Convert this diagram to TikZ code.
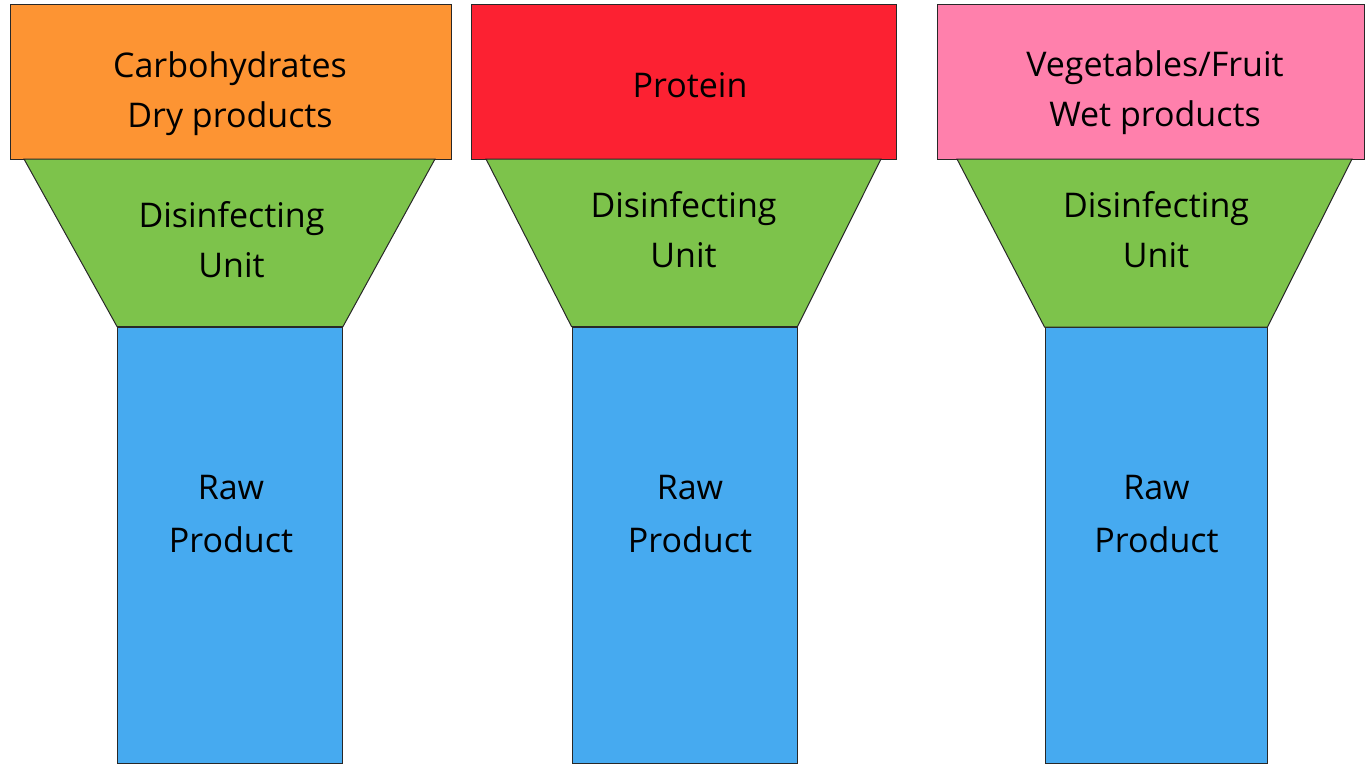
\documentclass[tikz,border=0pt]{standalone}
\usepackage{fontspec}
\setmainfont{Open Sans}
\usepackage{tikz}
\usetikzlibrary{positioning}
\definecolor{myorange}{RGB}{253,148,51}
\definecolor{myred}{RGB}{252,33,50}
\definecolor{mypink}{RGB}{255,128,172}
\definecolor{mygreen}{RGB}{125,195,75}
\definecolor{myblue}{RGB}{70,170,240}
\definecolor{myline}{RGB}{40,40,40}
\tikzset{
  topbox/.style={rectangle, draw=myline, line width=1pt, inner sep=0pt},
  rawbox/.style={rectangle, draw=myline, fill=myblue, line width=1pt,
    inner sep=0pt, minimum width=225pt, minimum height=436pt},
  funnel/.style={draw=myline, fill=mygreen, line width=1pt},
  lbl/.style={align=center, inner sep=0pt, text=black,
    font=\fontsize{34}{50}\selectfont},
  rawlbl/.style={align=center, inner sep=0pt, text=black,
    font=\fontsize{34}{53}\selectfont}
}

\begin{document}
\begin{tikzpicture}[x=1pt, y=-1pt]
  \useasboundingbox[fill=white] (0,0) rectangle (1365,768);

  % Carbohydrates column
  \node[topbox, fill=myorange, minimum width=441pt, minimum height=154pt] (carbo) at (230.5,82) {};
  \node[rawbox] (rawA) at (230,545) {};
  \draw[funnel] (24,159) -- (435,159) -- (rawA.north east) -- (rawA.north west) -- cycle;
  \node[lbl] (carbotext) at (230,93.5) {Carbohydrates\\Dry products};
  \node[lbl] (unitA) at (231.5,239.5) {Disinfecting\\Unit};
  \node[rawlbl] (rawtextA) at (231,514) {Raw\\Product};

  % Protein column
  \node[topbox, fill=myred, minimum width=425pt, minimum height=154pt] (protein) at (683.5,82) {};
  \node[rawbox] (rawB) at (684.5,545) {};
  \draw[funnel] (486,159) -- (881,159) -- (rawB.north east) -- (rawB.north west) -- cycle;
  \node[lbl] (proteintext) at (690,85.5) {Protein};
  \node[lbl] (unitB) at (683.5,229.5) {Disinfecting\\Unit};
  \node[rawlbl] (rawtextB) at (690,514) {Raw\\Product};

  % Vegetables column
  \node[topbox, fill=mypink, minimum width=427pt, minimum height=154pt] (veg) at (1150.5,82) {};
  \node[rawbox, minimum width=222pt] (rawC) at (1156,545.5) {};
  \draw[funnel] (957,159) -- (1352,159) -- (rawC.north east) -- (rawC.north west) -- cycle;
  \node[lbl] (vegtext) at (1155,92.5) {Vegetables/Fruit\\Wet products};
  \node[lbl] (unitC) at (1156,229.5) {Disinfecting\\Unit};
  \node[rawlbl] (rawtextC) at (1156.5,514) {Raw\\Product};
\end{tikzpicture}
\end{document}
